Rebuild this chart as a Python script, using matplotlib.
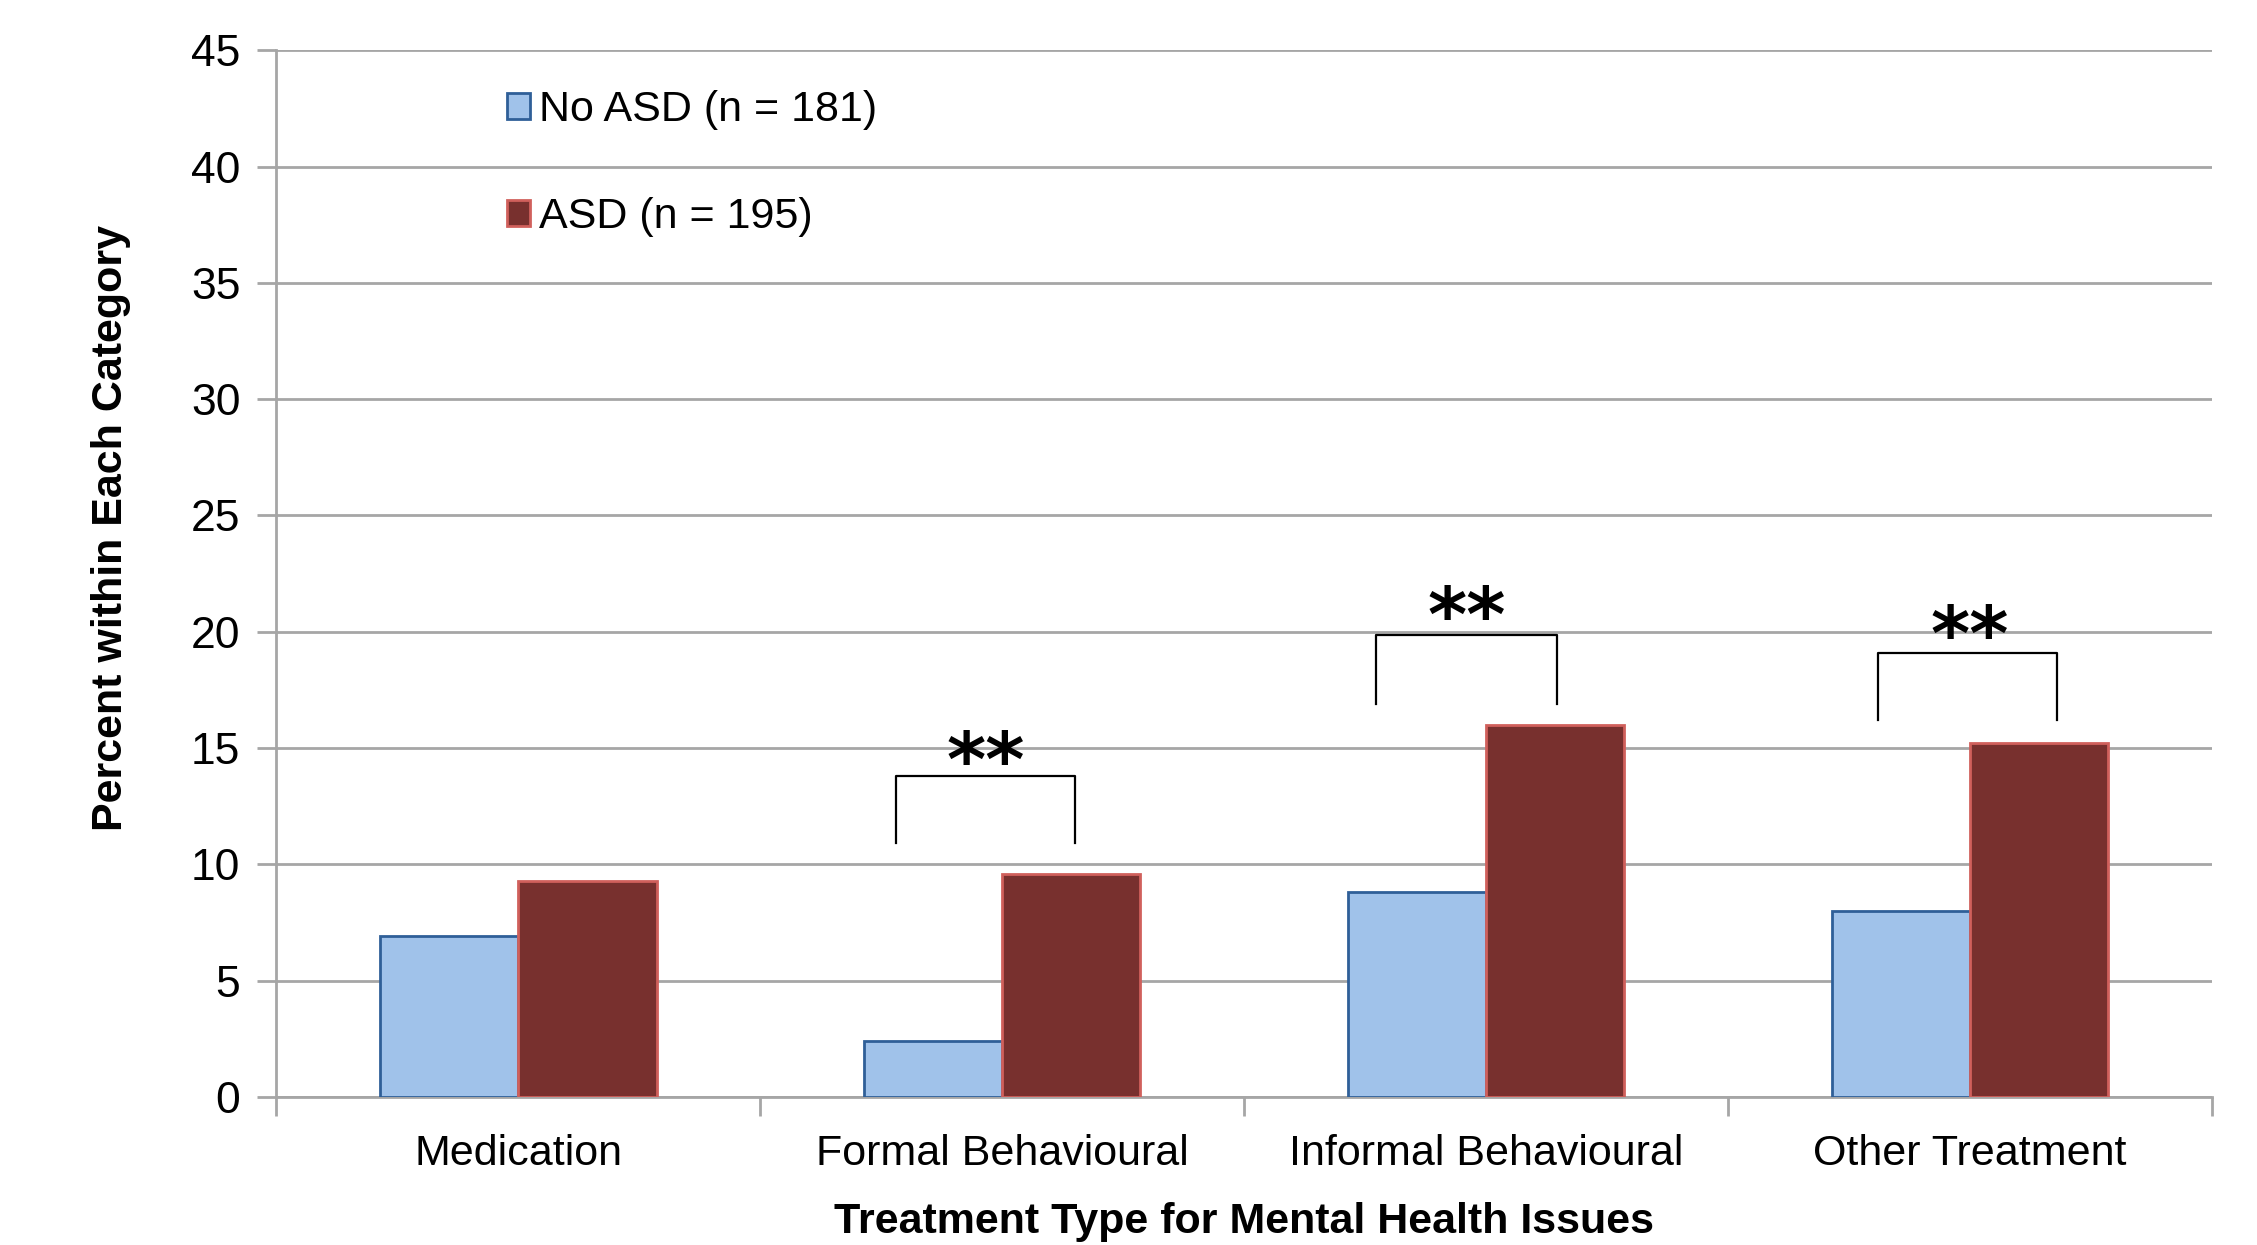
import numpy as np
import matplotlib
matplotlib.use('Agg')
import matplotlib.pyplot as plt

categorias = ['Medication', 'Formal Behavioural', 'Informal Behavioural', 'Other Treatment']
no_asd = [6.9, 2.4, 8.8, 8.0]
asd = [9.3, 9.6, 16.0, 15.2]
etiquetas = ['No ASD (n = 181)', 'ASD (n = 195)']

# corchetes de significancia: categoria, x izq, x der (relativo al centro), y base, y tope, texto
sig_cat = [1, 2, 3]
sig_izq = [-0.22, -0.227, -0.19]
sig_der = [0.15, 0.146, 0.18]
sig_base = [10.9, 16.9, 16.2]
sig_tope = [13.8, 19.85, 19.1]
sig_estrella_x = [-0.035, -0.04, 0.0]
sig_estrella_y = [12.7, 18.9, 18.1]
sig_texto = ['**', '**', '**']

plt.rcParams['font.family'] = ['Liberation Sans', 'DejaVu Sans']

fig = plt.figure(figsize=(22.57, 12.45), dpi=100)
ax = fig.add_axes([0.1225, 0.119, 0.8575, 0.8405])

x = np.arange(len(categorias))
ancho = 1 / 3.5

ax.bar(x - ancho / 2, no_asd, ancho, color='#A0C2EA', edgecolor='#2F5F98', linewidth=2, label=etiquetas[0], zorder=3)
ax.bar(x + ancho / 2, asd, ancho, color='#78302E', edgecolor='#D0605C', linewidth=2, label=etiquetas[1], zorder=3)

for c, xi, xd, yb, yt, sx, sy, t in zip(sig_cat, sig_izq, sig_der, sig_base, sig_tope,
                                         sig_estrella_x, sig_estrella_y, sig_texto):
    ax.plot([c + xi, c + xi, c + xd, c + xd], [yb, yt, yt, yb], color='black', lw=1.6, zorder=4)
    ax.text(c + sx, sy, t, ha='center', va='bottom', fontsize=54, fontweight='bold',
            family='DejaVu Sans', zorder=4)

ax.set_xlim(-0.5, len(categorias) - 0.5)
ax.set_ylim(0, 45)
ax.set_yticks(range(0, 46, 5))
ax.yaxis.grid(True, color='#A6A6A6', linewidth=2, zorder=0)
ax.set_axisbelow(True)

ax.set_xticks(x)
ax.set_xticklabels(categorias, fontsize=31)
ax.set_xticks(np.arange(-0.5, len(categorias), 1), minor=True)
ax.tick_params(axis='x', which='major', length=0, pad=27)
ax.tick_params(axis='x', which='minor', length=14, width=2, color='#A6A6A6')
ax.tick_params(axis='y', length=14, width=2, color='#A6A6A6', labelsize=32, pad=12)

for s in ['top', 'right']:
    ax.spines[s].set_visible(False)
for s in ['left', 'bottom']:
    ax.spines[s].set_color('#A6A6A6')
    ax.spines[s].set_linewidth(2)

ax.set_xlabel('Treatment Type for Mental Health Issues', fontsize=31, fontweight='bold', labelpad=20)
ax.set_ylabel('Percent within Each Category', fontsize=31, fontweight='bold')
ax.yaxis.set_label_coords(-0.075, 0.544)

ax.legend(loc='upper left', bbox_to_anchor=(0.119, 0.962), frameon=False, fontsize=31,
          handlelength=0.55, handleheight=0.55, handletextpad=0.2, labelspacing=1.55,
          borderpad=0, borderaxespad=0)

plt.savefig('out.png', dpi=100)
